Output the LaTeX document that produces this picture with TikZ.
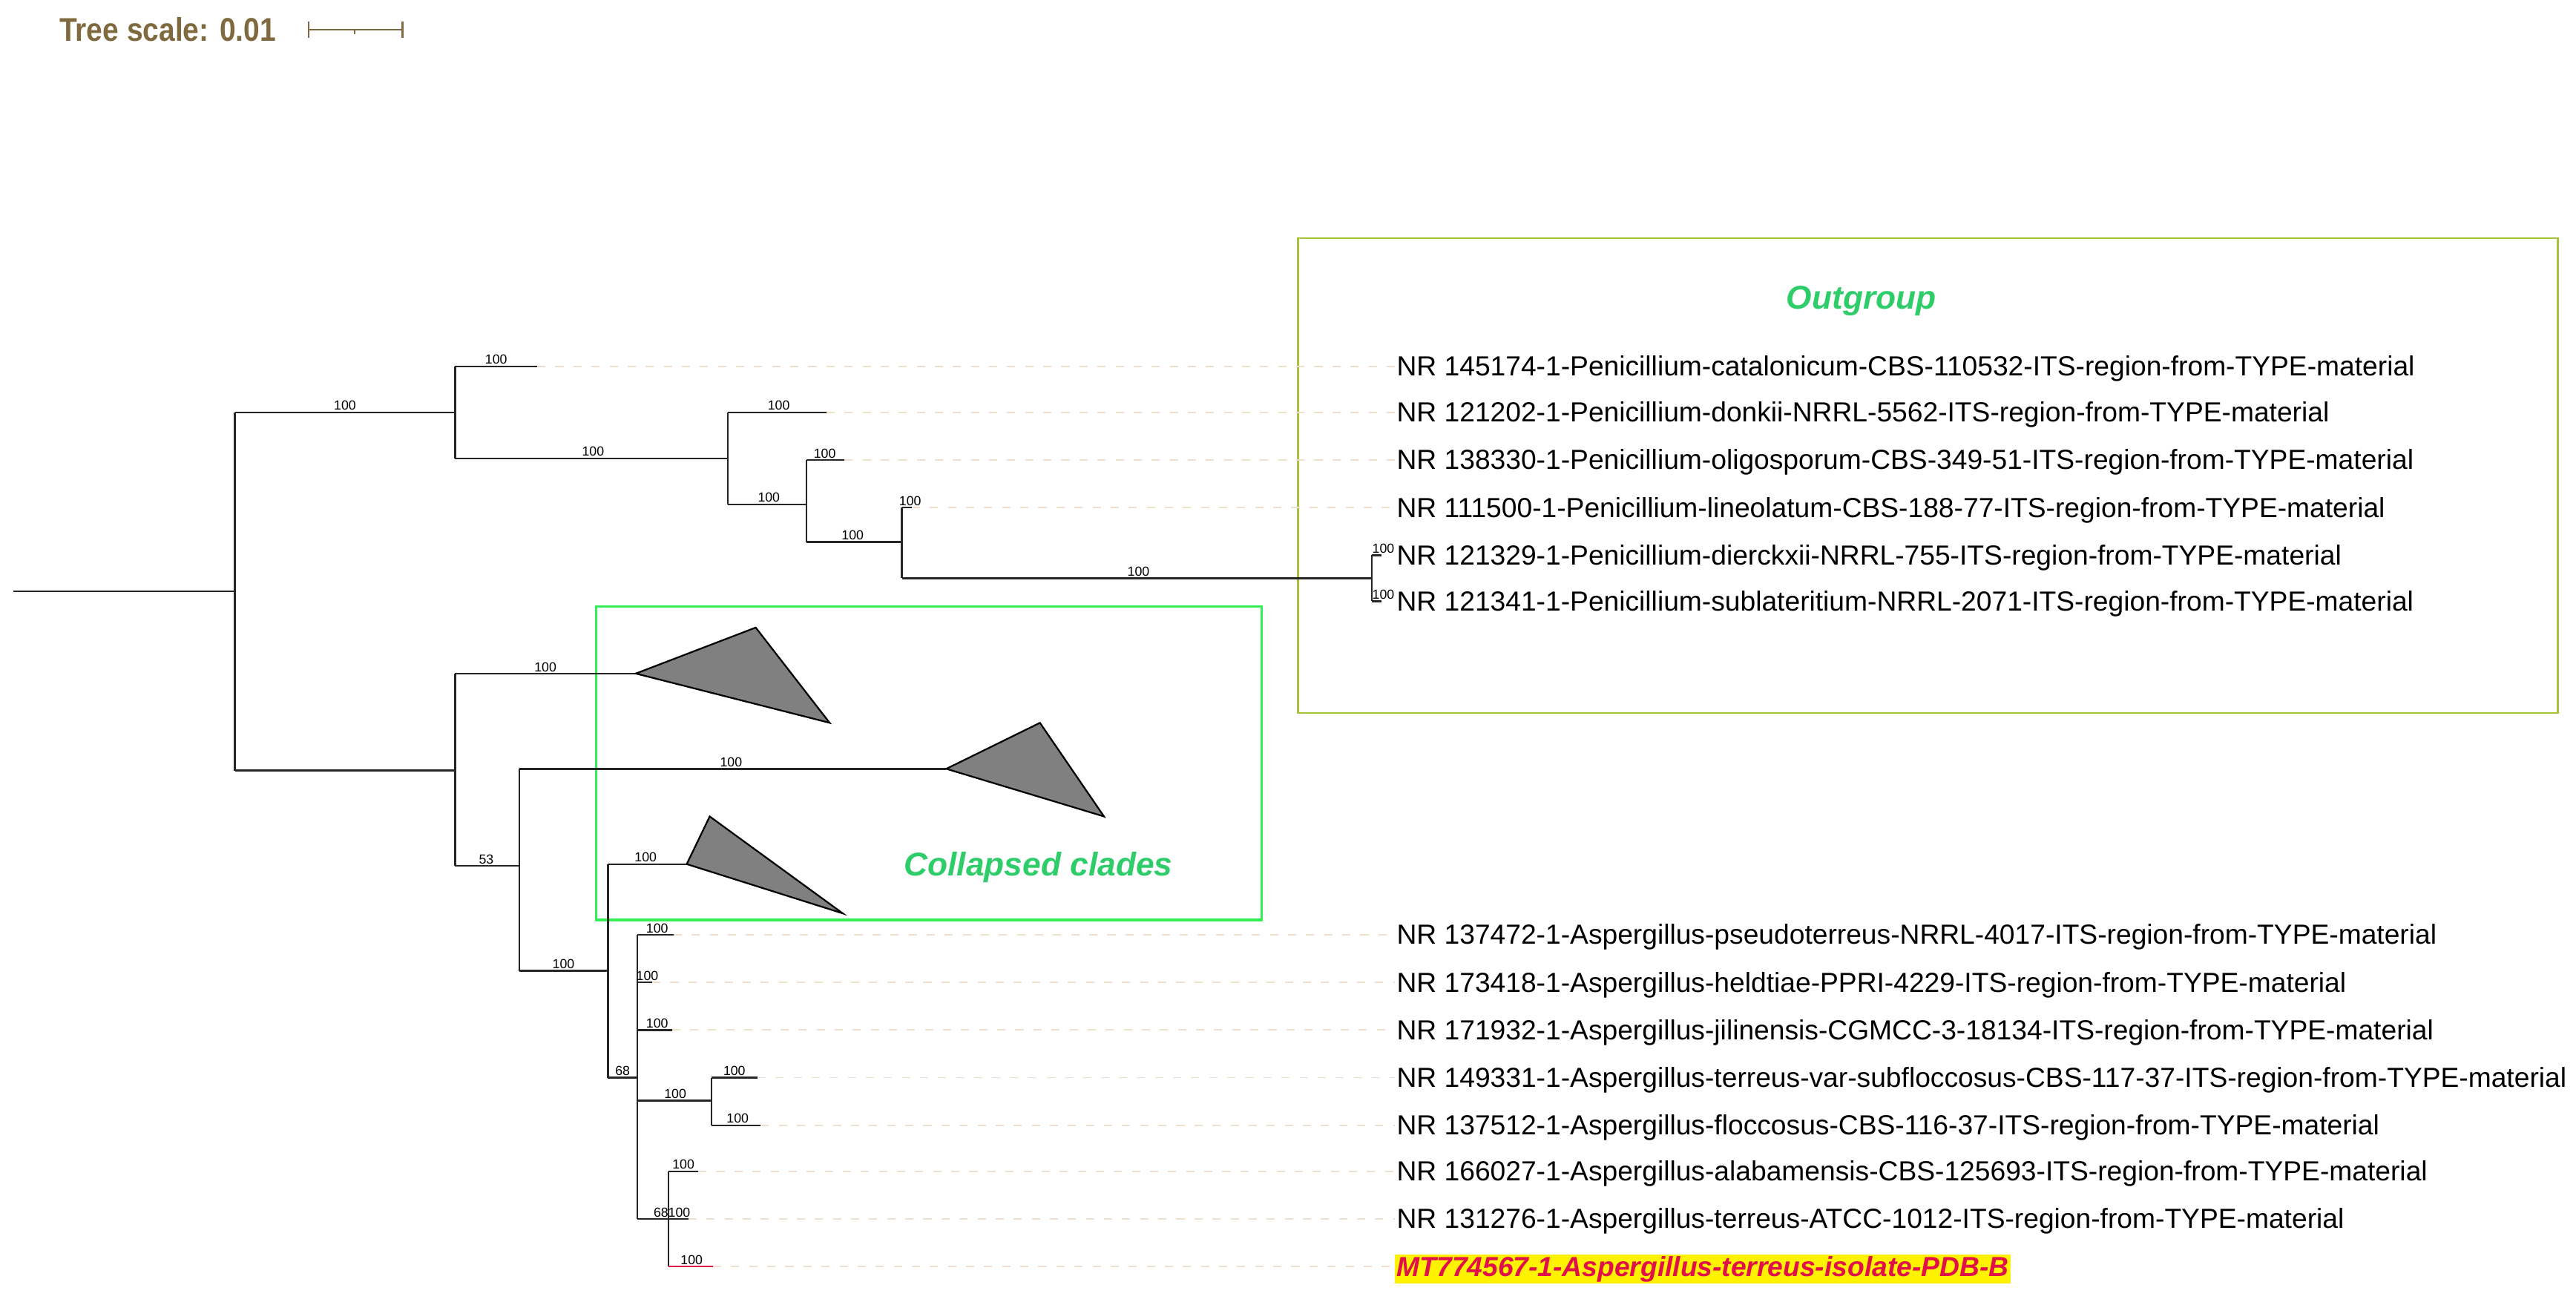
\documentclass[tikz,border=0pt]{standalone}
\usepackage{fontspec}
\setmainfont{Liberation Sans}
\begin{document}
\begin{tikzpicture}[x=1pt,y=-1pt,
  br/.style={draw=black!85,line width=1.1pt},
  bs/.style={font=\fontsize{8}{8}\selectfont,inner sep=1pt,anchor=south},
  lf/.style={font=\fontsize{16.8}{16}\selectfont,anchor=west,inner sep=1pt},
  dl/.style={draw=brown!25,dashed,dash pattern=on 5pt off 6pt,line width=0.8pt},
  tri/.style={draw=black,fill=black!50,line width=1pt}]
\useasboundingbox (0,0) rectangle (1568,794);
\definecolor{scl}{HTML}{7F6A3F}
\definecolor{ogc}{HTML}{A6C43A}
\definecolor{txg}{HTML}{2FCC6A}
\definecolor{cbx}{HTML}{33EE55}
\definecolor{red1}{HTML}{E0104A}
% scale
\node[font=\bfseries\fontsize{20}{20}\selectfont,text=scl,anchor=west,inner sep=0,xscale=0.88] (ts) at (36,18) {Tree scale: 0.01};
\coordinate (s1) at (188,18); \coordinate (s2) at (245,18);
\draw[scl,line width=1pt] (s1) -- (s2) (188,13)--(188,23) (245,13)--(245,23) (216,18)--(216,21);
% boxes
\draw[ogc,line width=1.2pt] (790,145) rectangle (1557,434);
\node[font=\bfseries\itshape\fontsize{20}{20}\selectfont,text=txg] (og) at (1133,183) {Outgroup};
\draw[cbx,line width=1.4pt] (363,369) rectangle (768,560);
\node[font=\bfseries\itshape\fontsize{20}{20}\selectfont,text=txg] (cc) at (632,528) {Collapsed clades};
% coordinates of tree
\coordinate (r0) at (8,360);
\foreach \n/\x/\y in {n1/143/360,a/277/251,b/277/469,l1/327/223,c/443/279,l2/503/251,d/491/307,l3/514/280,e/549/330,l4/555/309,f/835/352,l5/841/338,l6/841/366,
 ca/387/410,g/316/527,cb/576/468,h/370/591,cc0/418/526,i/388/656,m1/410/569,m2/397/598,m3/409/627,j/433/670,m4/461/656,m5/463/685,k/407/742,m6/425/713,m7/419/742,m8/434/771}
  \coordinate (\n) at (\x,\y);
\draw[br] (r0) -- (n1);
\draw[br] (n1|-a) -- (n1|-b);
\draw[br] (n1|-a) -- (a); \draw[br] (n1|-b) -- (b);
\draw[br] (a|-l1) -- (a|-c);
\draw[br] (a|-l1) -- (l1); \draw[br] (a|-c) -- (c);
\draw[br] (c|-l2) -- (c|-d);
\draw[br] (c|-l2) -- (l2); \draw[br] (c|-d) -- (d);
\draw[br] (d|-l3) -- (d|-e);
\draw[br] (d|-l3) -- (l3); \draw[br] (d|-e) -- (e);
\draw[br] (e|-l4) -- (e|-f);
\draw[br] (e|-l4) -- (l4); \draw[br] (e|-f) -- (f);
\draw[br] (f|-l5) -- (f|-l6);
\draw[br] (f|-l5) -- (l5); \draw[br] (f|-l6) -- (l6);
% lower
\draw[br] (b|-ca) -- (b|-g);
\draw[br] (b|-ca) -- (ca); \draw[br] (b|-g) -- (g);
\draw[tri] (ca) -- (460,382) -- (505,440) -- cycle;
\draw[br] (g|-cb) -- (g|-h);
\draw[br] (g|-cb) -- (cb); \draw[br] (g|-h) -- (h);
\draw[tri] (cb) -- (633,440) -- (672,497) -- cycle;
\draw[br] (h|-cc0) -- (h|-i);
\draw[br] (h|-cc0) -- (cc0); \draw[br] (h|-i) -- (i);
\draw[tri] (cc0) -- (432,497) -- (513,556) -- cycle;
\draw[br] (i|-m1) -- (i|-k);
\draw[br] (i|-m1) -- (m1); \draw[br] (i|-m2) -- (m2); \draw[br] (i|-m3) -- (m3);
\draw[br] (i|-j) -- (j);
\draw[br] (j|-m4) -- (j|-m5);
\draw[br] (j|-m4) -- (m4); \draw[br] (j|-m5) -- (m5);
\draw[br] (i|-k) -- (k);
\draw[br] (k|-m6) -- (k|-m8);
\draw[br] (k|-m6) -- (m6); \draw[br] (k|-m7) -- (m7);
\draw[draw=red1,line width=1.1pt] (k|-m8) -- (m8);
% bootstrap labels
\foreach \x/\y/\t in {210/251/100,302/223/100,361/279/100,474/251/100,468/307/100,502/280/100,519/330/100,554/309/100,693/352/100,842/338/100,842/366/100,
 332/410/100,296/527/53,445/468/100,343/591/100,393/526/100,379/656/68,400/569/100,394/598/100,400/627/100,411/670/100,447/656/100,449/685/100,416/713/100,409/742/68100,421/771/100}
  \node[bs] at (\x,\y) {\t};
% leaf labels
\foreach \n/\y/\t in {
 t1/223/NR 145174-1-Penicillium-catalonicum-CBS-110532-ITS-region-from-TYPE-material,
 t2/251/NR 121202-1-Penicillium-donkii-NRRL-5562-ITS-region-from-TYPE-material,
 t3/280/NR 138330-1-Penicillium-oligosporum-CBS-349-51-ITS-region-from-TYPE-material,
 t4/309/NR 111500-1-Penicillium-lineolatum-CBS-188-77-ITS-region-from-TYPE-material,
 t5/338/NR 121329-1-Penicillium-dierckxii-NRRL-755-ITS-region-from-TYPE-material,
 t6/366/NR 121341-1-Penicillium-sublateritium-NRRL-2071-ITS-region-from-TYPE-material,
 t7/569/NR 137472-1-Aspergillus-pseudoterreus-NRRL-4017-ITS-region-from-TYPE-material,
 t8/598/NR 173418-1-Aspergillus-heldtiae-PPRI-4229-ITS-region-from-TYPE-material,
 t9/627/NR 171932-1-Aspergillus-jilinensis-CGMCC-3-18134-ITS-region-from-TYPE-material,
 t10/656/NR 149331-1-Aspergillus-terreus-var-subfloccosus-CBS-117-37-ITS-region-from-TYPE-material,
 t11/685/NR 137512-1-Aspergillus-floccosus-CBS-116-37-ITS-region-from-TYPE-material,
 t12/713/NR 166027-1-Aspergillus-alabamensis-CBS-125693-ITS-region-from-TYPE-material,
 t13/742/NR 131276-1-Aspergillus-terreus-ATCC-1012-ITS-region-from-TYPE-material}
  \node[lf] (\n) at (849,\y+1.5) {\t};
\node[lf,fill=yellow,text=red1,font=\bfseries\itshape\fontsize{16.8}{16}\selectfont] (t14) at (849,772.5) {MT774567-1-Aspergillus-terreus-isolate-PDB-B};
% dotted guides
\draw[dl] (l1) -- (t1.west|-l1); \draw[dl] (l2) -- (t2.west|-l2); \draw[dl] (l3) -- (t3.west|-l3); \draw[dl] (l4) -- (t4.west|-l4);
\draw[dl] (m1) -- (t7.west|-m1); \draw[dl] (m2) -- (t8.west|-m2); \draw[dl] (m3) -- (t9.west|-m3); \draw[dl] (m4) -- (t10.west|-m4);
\draw[dl] (m5) -- (t11.west|-m5); \draw[dl] (m6) -- (t12.west|-m6); \draw[dl] (m7) -- (t13.west|-m7); \draw[dl] (m8) -- (t14.west|-m8);
\end{tikzpicture}
\end{document}
